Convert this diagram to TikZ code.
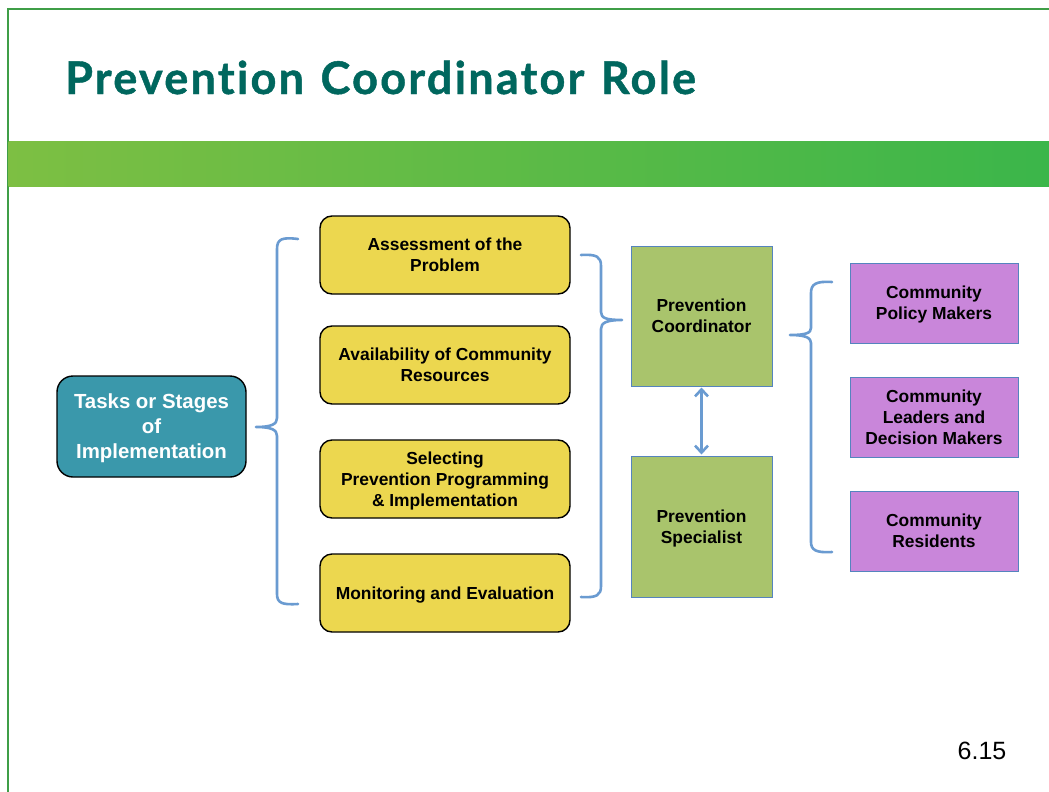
\documentclass[tikz,border=0pt]{standalone}
\usepackage{fontspec}
\setmainfont{Liberation Sans}
\newfontfamily\titlefont[Ligatures=NoCommon, LetterSpace=5, WordSpace=1.25, BoldFeatures={FakeBold=1}]{Lato}
\usetikzlibrary{arrows.meta}
\definecolor{titlecol}{HTML}{00675E}
\definecolor{framegreen}{HTML}{3F9E47}
\definecolor{bandL}{HTML}{7DBF43}
\definecolor{bandR}{HTML}{3BB64A}
\definecolor{tealfill}{HTML}{3A98AB}
\definecolor{yellowfill}{HTML}{ECD74F}
\definecolor{greenfill}{HTML}{A9C46C}
\definecolor{purplefill}{HTML}{C986DA}
\definecolor{boxblue}{HTML}{5584BE}
\definecolor{braceblue}{HTML}{6A9BD1}
\tikzset{
  boxtext/.style={font=\bfseries\fontsize{17.4}{21}\selectfont, align=center, inner sep=0pt, text depth=0pt},
  taskbox/.style={boxtext, draw=black, line width=1.4pt, fill=yellowfill, rounded corners=12pt, minimum width=250pt, minimum height=78pt},
  tealbox/.style={draw=black, line width=1.4pt, fill=tealfill, rounded corners=16pt, minimum width=189pt, minimum height=101pt, text=white, font=\bfseries\fontsize{20.4}{25}\selectfont, align=center, inner sep=0pt, text depth=0pt},
  rolebox/.style={boxtext, draw=boxblue, line width=1pt, fill=greenfill, minimum width=141pt, minimum height=140pt},
  commbox/.style={boxtext, draw=boxblue, line width=1pt, fill=purplefill, minimum width=168pt, minimum height=80pt},
  bracestyle/.style={draw=braceblue, line width=2.6pt, line cap=round, line join=round},
}
\begin{document}
\begin{tikzpicture}[x=1pt,y=-1pt]
\useasboundingbox (0,0) rectangle (1049,792);
\fill[white] (0,0) rectangle (1049,792);
% frame
\draw[framegreen, line width=2.2pt] (8,792) -- (8,9) -- (1049,9);
% band
\shade[left color=bandL, right color=bandR] (8.5,141) rectangle (1049,186);
% title
\node[anchor=base west, inner sep=0pt, text=titlecol, font=\titlefont\bfseries\fontsize{45}{54}\selectfont] (title) at (65,94) {Prevention Coordinator Role};
% nodes
\node[tealbox] (tasks) at (151.5,426.5) {Tasks or Stages\\of\\Implementation};
\node[taskbox] (t1) at (445,255) {Assessment of the\\Problem};
\node[taskbox] (t2) at (445,365) {Availability of Community\\Resources};
\node[taskbox] (t3) at (445,479) {Selecting\\Prevention Programming\\\& Implementation};
\node[taskbox] (t4) at (445,593) {Monitoring and Evaluation};
\node[rolebox] (coord) at (701.5,316) {Prevention\\Coordinator};
\node[rolebox, minimum height=141pt] (spec) at (701.5,526.5) {Prevention\\Specialist};
\node[commbox] (c1) at (934,303) {Community\\Policy Makers};
\node[commbox] (c2) at (934,417) {Community\\Leaders and\\Decision Makers};
\node[commbox] (c3) at (934,531) {Community\\Residents};
% arrow
\draw[braceblue, line width=2.6pt, {Straight Barb[length=7pt,width=13pt]}-{Straight Barb[length=7pt,width=13pt]}] ([yshift=-1pt]coord.south) -- ([yshift=1pt]spec.north);
% braces
\path[bracestyle] (298,239) .. controls (282,237) and (277,239) .. (277,249) -- (277,418)
  .. controls (277,424) and (272,427) .. (256,427)
  .. controls (272,427) and (277,430) .. (277,436) -- (277,594)
  .. controls (277,603) and (282,605) .. (298,604);
\path[bracestyle] (581,255) .. controls (597,254) and (601,257) .. (601,266) -- (601,312)
  .. controls (601,318) and (606,320) .. (622,320)
  .. controls (606,320) and (601,323) .. (601,329) -- (601,586)
  .. controls (601,595) and (597,598) .. (581,597);
\path[bracestyle] (832,282) .. controls (816,281) and (811,284) .. (811,293) -- (811,328)
  .. controls (811,333) and (806,335) .. (790,335)
  .. controls (806,335) and (811,338) .. (811,343) -- (811,542)
  .. controls (811,550) and (816,553) .. (832,552);
% page number
\node[anchor=base, inner sep=0pt, font=\fontsize{25}{30}\selectfont] (pg) at (982,759) {6.15};
\end{tikzpicture}
\end{document}
